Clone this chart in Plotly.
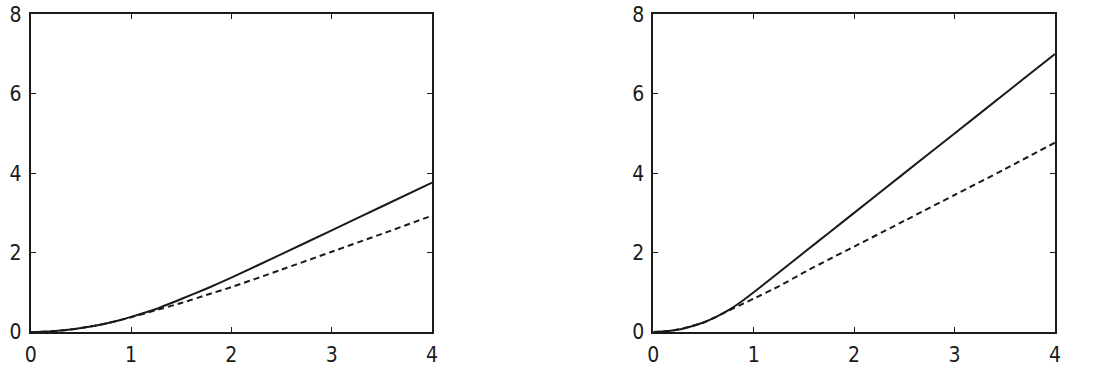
import plotly.graph_objects as go

x_vals = [0, 0.125, 0.25, 0.375, 0.5, 0.625, 0.75, 0.875, 1.0,
          1.25, 1.5, 1.75, 2.0, 2.5, 3.0, 3.5, 4.0]

left_solid = [0, 0.006, 0.025, 0.055, 0.1, 0.15, 0.215, 0.29, 0.38,
              0.58, 0.83, 1.09, 1.37, 1.96, 2.56, 3.16, 3.76]
left_dashed = [0, 0.006, 0.025, 0.055, 0.1, 0.15, 0.215, 0.29, 0.37,
               0.55, 0.73, 0.93, 1.13, 1.57, 2.02, 2.47, 2.93]

right_solid = [0, 0.016, 0.06, 0.14, 0.24, 0.38, 0.55, 0.76, 1.0,
               1.5, 2.0, 2.5, 3.0, 4.0, 5.0, 6.0, 7.0]
right_dashed = [0, 0.016, 0.06, 0.14, 0.24, 0.38, 0.54, 0.69, 0.84,
                1.15, 1.5, 1.83, 2.15, 2.8, 3.45, 4.1, 4.77]

x_ticks = [0, 1, 2, 3, 4]
y_ticks = [0, 2, 4, 6, 8]

FONT = "DejaVu Sans Condensed, Liberation Sans Narrow, sans-serif"
INK = "#1a1a1a"

fig = go.Figure()

def add_pair(solid, dashed, xa, ya):
    fig.add_trace(go.Scatter(x=x_vals, y=solid, mode="lines", xaxis=xa, yaxis=ya,
                             line=dict(color=INK, width=2, shape="spline", smoothing=0.5),
                             showlegend=False, hoverinfo="skip"))
    fig.add_trace(go.Scatter(x=x_vals, y=dashed, mode="lines", xaxis=xa, yaxis=ya,
                             line=dict(color=INK, width=2, dash="6px,4px", shape="spline", smoothing=0.5),
                             showlegend=False, hoverinfo="skip"))

add_pair(left_solid, left_dashed, "x", "y")
add_pair(right_solid, right_dashed, "x2", "y2")

axis_common = dict(
    showgrid=False, zeroline=False, showline=True, linecolor=INK, linewidth=1.8,
    mirror="ticks", ticks="inside", ticklen=5, tickwidth=1.2, tickcolor=INK,
    tickfont=dict(family=FONT, size=21, color=INK), automargin=False,
)

fig.update_layout(
    width=1094, height=377,
    margin=dict(l=0, r=0, t=0, b=0),
    paper_bgcolor="white", plot_bgcolor="white",
    xaxis=dict(domain=[0.0281, 0.3949], range=[0, 4], tickvals=x_ticks, anchor="y",
               ticklabelstandoff=3, **axis_common),
    yaxis=dict(domain=[0.1194, 0.962], range=[0, 8], tickvals=y_ticks, anchor="x",
               ticklabelstandoff=3, **axis_common),
    xaxis2=dict(domain=[0.5972, 0.9643], range=[0, 4], tickvals=x_ticks, anchor="y2",
                ticklabelstandoff=3, **axis_common),
    yaxis2=dict(domain=[0.1194, 0.962], range=[0, 8], tickvals=y_ticks, anchor="x2",
                ticklabelstandoff=3, **axis_common),
)

fig.write_html("out.html")
